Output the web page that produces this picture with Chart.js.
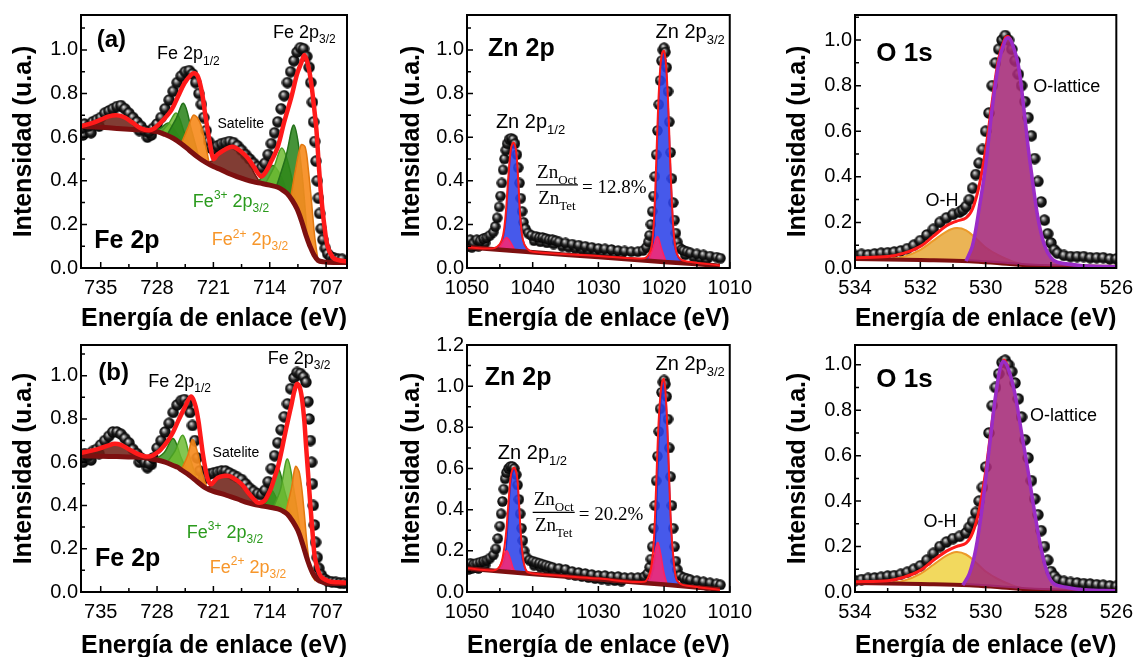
<!DOCTYPE html>
<html>
<head>
<meta charset="utf-8">
<script src="https://cdn.jsdelivr.net/npm/chart.js"></script>
<style>
  html, body { margin: 0; padding: 0; background: #fff; }
  #wrap { position: relative; width: 1141px; height: 657px; overflow: hidden; }
  #wrap canvas { position: absolute; }
</style>
</head>
<body>
<div id="wrap">
  <canvas id="feA" width="380" height="330" style="left:0;top:0"></canvas>
  <canvas id="znA" width="380" height="330" style="left:380px;top:0"></canvas>
  <canvas id="oA" width="381" height="330" style="left:760px;top:0"></canvas>
  <canvas id="feB" width="380" height="327" style="left:0;top:330px"></canvas>
  <canvas id="znB" width="380" height="327" style="left:380px;top:330px"></canvas>
  <canvas id="oB" width="381" height="327" style="left:760px;top:330px"></canvas>
</div>
<script>
// ---- axes ----
const feTicksX = [735, 728, 721, 714, 707];
const feMinorX = [731.5, 724.5, 717.5, 710.5];
const znTicksX = [1050, 1040, 1030, 1020, 1010];
const znMinorX = [1045, 1035, 1025, 1015];
const oTicksX = [534, 532, 530, 528, 526];
const oMinorX = [533, 531, 529, 527];
const yTicks10 = [0, 0.2, 0.4, 0.6, 0.8, 1.0];
const yMinor10 = [0.1, 0.3, 0.5, 0.7, 0.9, 1.1];
const yTicks12 = [0, 0.2, 0.4, 0.6, 0.8, 1.0, 1.2];

// ---- Fe 2p (a) ----
const feA_data = [[737.4,0.64],[737.0,0.66],[736.5,0.65],[736.0,0.67],[735.5,0.68],[735.0,0.69],[734.5,0.71],[734.0,0.72],[733.5,0.73],[733.0,0.74],[732.5,0.745],[732.0,0.73],[731.5,0.71],[731.0,0.69],[730.5,0.67],[730.0,0.65],[729.5,0.63],[729.0,0.625],[728.5,0.64],[728.0,0.66],[727.5,0.69],[727.0,0.73],[726.5,0.77],[726.0,0.81],[725.5,0.85],[725.0,0.88],[724.5,0.90],[724.0,0.905],[723.6,0.89],[723.2,0.85],[722.8,0.80],[722.5,0.75],[722.2,0.69],[721.9,0.63],[721.6,0.58],[721.3,0.55],[721.0,0.545],[720.5,0.56],[720.0,0.57],[719.5,0.575],[719.0,0.58],[718.5,0.575],[718.0,0.56],[717.5,0.54],[717.0,0.52],[716.5,0.50],[716.0,0.48],[715.5,0.465],[715.0,0.46],[714.6,0.48],[714.2,0.52],[713.8,0.57],[713.4,0.62],[713.0,0.67],[712.6,0.73],[712.2,0.79],[711.8,0.85],[711.4,0.90],[711.0,0.95],[710.6,0.99],[710.2,1.01],[709.8,1.005],[709.4,0.97],[709.1,0.92],[708.9,0.85],[708.7,0.76],[708.55,0.67],[708.4,0.58],[708.25,0.49],[708.1,0.40],[707.95,0.32],[707.8,0.25],[707.6,0.18],[707.4,0.13],[707.1,0.09],[706.8,0.065],[706.4,0.05],[706.0,0.045],[705.5,0.04],[705.0,0.04]];
const feA_spread = [[737.2,0.61],[736.2,0.62],[735.2,0.65],[730.2,0.63],[729.2,0.60],[728.7,0.61]];
const feA_bg = [[737.45,0.65],[735,0.645],[733,0.64],[731,0.635],[729,0.63],[728,0.625],[727,0.612],[726,0.595],[725,0.57],[724,0.54],[723,0.51],[722,0.485],[721,0.465],[720,0.45],[719,0.432],[718,0.418],[717,0.405],[716,0.395],[715,0.388],[714,0.38],[713,0.37],[712.3,0.355],[711.8,0.34],[711.2,0.31],[710.6,0.27],[710.0,0.21],[709.5,0.15],[709.0,0.10],[708.5,0.06],[708.0,0.035],[707.3,0.028],[706,0.025],[704.4,0.025]];
const feA_sat1 = [[737.45,0.65],[736.5,0.66],[735.5,0.675],[734.5,0.69],[733.5,0.70],[732.6,0.70],[731.7,0.685],[730.8,0.665],[729.9,0.645],[729,0.63]];
const feA_sat2 = [[722.0,0.485],[721.2,0.49],[720.5,0.515],[719.5,0.545],[718.6,0.555],[717.7,0.54],[716.8,0.50],[716.0,0.44],[715.2,0.39]];
const feA_g1 = [[728.6,0.628],[727.6,0.64],[726.6,0.665],[725.6,0.62],[724.6,0.56]];
const feA_g2 = [[727.6,0.618],[726.6,0.66],[725.6,0.71],[724.6,0.62],[723.6,0.53]];
const feA_g3 = [[726.8,0.607],[725.7,0.68],[724.7,0.755],[723.7,0.63],[722.8,0.505]];
const feA_o1 = [[725.0,0.57],[724.2,0.64],[723.5,0.70],[723.0,0.69],[722.5,0.65],[722.0,0.57],[721.5,0.475]];
const feA_g4 = [[715.6,0.392],[714.6,0.43],[713.6,0.47],[712.6,0.42],[711.8,0.34]];
const feA_g5 = [[714.6,0.383],[713.5,0.46],[712.5,0.55],[711.5,0.45],[710.6,0.27]];
const feA_g6 = [[713.2,0.37],[712.0,0.51],[711.0,0.655],[710.1,0.47],[709.3,0.13]];
const feA_o2 = [[711.4,0.32],[710.8,0.45],[710.1,0.565],[709.6,0.555],[709.2,0.45],[708.8,0.30],[708.4,0.14],[708.0,0.035]];
const feA_fit = [[737.45,0.65],[736,0.665],[735,0.68],[734,0.695],[733,0.70],[732,0.69],[731,0.665],[730,0.64],[729,0.632],[728.3,0.641],[727.2,0.68],[726.2,0.725],[725.4,0.786],[724.6,0.847],[723.8,0.885],[723.35,0.893],[722.9,0.875],[722.4,0.80],[722.0,0.70],[721.5,0.587],[721.0,0.50],[720.5,0.52],[719.5,0.545],[718.6,0.556],[717.6,0.535],[716.7,0.503],[715.9,0.46],[715.1,0.42],[714.5,0.44],[713.8,0.49],[713.0,0.556],[712.2,0.67],[711.3,0.786],[710.6,0.89],[710.1,0.939],[709.7,0.977],[709.3,0.94],[708.9,0.862],[708.5,0.74],[708.2,0.633],[707.9,0.47],[707.6,0.327],[707.2,0.19],[706.8,0.098],[706.2,0.05],[705.6,0.037],[704.4,0.03]];

// ---- Fe 2p (b) ----
const feB_data = [[737.4,0.62],[737.0,0.64],[736.5,0.63],[736.0,0.65],[735.5,0.66],[735.0,0.68],[734.5,0.70],[734.0,0.72],[733.5,0.74],[733.0,0.74],[732.5,0.73],[732.0,0.71],[731.5,0.69],[731.0,0.66],[730.5,0.64],[730.0,0.62],[729.5,0.60],[729.0,0.595],[728.5,0.62],[728.0,0.665],[727.5,0.70],[727.0,0.74],[726.5,0.78],[726.0,0.83],[725.5,0.865],[725.0,0.885],[724.6,0.89],[724.2,0.87],[723.9,0.83],[723.6,0.77],[723.3,0.70],[723.0,0.62],[722.7,0.56],[722.3,0.52],[722.0,0.53],[721.5,0.545],[721.0,0.55],[720.5,0.555],[720.0,0.56],[719.5,0.56],[719.0,0.55],[718.5,0.54],[718.0,0.53],[717.5,0.52],[717.0,0.50],[716.5,0.48],[716.0,0.465],[715.5,0.455],[715.0,0.45],[714.6,0.47],[714.2,0.51],[713.8,0.57],[713.4,0.63],[713.0,0.69],[712.6,0.75],[712.2,0.81],[711.8,0.87],[711.4,0.94],[711.0,0.99],[710.6,1.015],[710.2,1.01],[709.8,0.995],[709.5,0.97],[709.25,0.88],[709.1,0.80],[708.95,0.70],[708.8,0.60],[708.7,0.50],[708.6,0.40],[708.45,0.31],[708.3,0.23],[708.1,0.16],[707.9,0.11],[707.6,0.08],[707.2,0.06],[706.8,0.05],[706.3,0.047],[705.8,0.045],[705.3,0.042],[704.8,0.04]];
const feB_spread = [[737.2,0.60],[736.2,0.61],[735.2,0.64],[730.2,0.60],[729.2,0.575],[728.7,0.59]];
const feB_bg = [[737.45,0.63],[735,0.628],[733,0.626],[731,0.624],[729.6,0.621],[728,0.61],[727,0.60],[726,0.585],[725.4,0.576],[725,0.565],[724,0.54],[723,0.51],[722.1,0.484],[721,0.465],[720,0.455],[719.2,0.445],[718,0.43],[717,0.415],[716,0.405],[715.1,0.399],[714,0.392],[713,0.384],[712.4,0.375],[711.8,0.36],[711.2,0.33],[710.5,0.284],[709.9,0.22],[709.3,0.147],[708.7,0.09],[708.0,0.055],[707.3,0.045],[706.8,0.04],[704.4,0.04]];
const feB_sat1 = [[737.45,0.632],[736,0.648],[735,0.662],[734,0.676],[733.3,0.684],[732.5,0.68],[731.5,0.662],[730.5,0.64],[729.6,0.624],[729,0.618]];
const feB_sat2 = [[721.8,0.48],[721.0,0.50],[720.3,0.525],[719.6,0.537],[718.9,0.534],[718.0,0.51],[717.2,0.475],[716.4,0.435],[715.6,0.405]];
const feB_g1 = [[728.2,0.613],[727.1,0.645],[726.0,0.71],[725.0,0.62],[724.1,0.545]];
const feB_g2 = [[726.8,0.597],[725.8,0.65],[724.8,0.725],[723.9,0.62],[723.0,0.51]];
const feB_o1 = [[725.0,0.565],[724.2,0.63],[723.6,0.705],[723.0,0.65],[722.4,0.55],[721.8,0.48]];
const feB_g3 = [[715.6,0.403],[714.6,0.425],[713.8,0.47],[713.0,0.42],[712.2,0.37]];
const feB_g4 = [[714.8,0.394],[713.9,0.46],[713.0,0.575],[712.1,0.46],[711.2,0.34]];
const feB_g5 = [[713.6,0.387],[712.7,0.47],[711.8,0.615],[710.9,0.45],[710.0,0.23]];
const feB_o2 = [[712.0,0.37],[711.3,0.48],[710.8,0.58],[710.3,0.55],[709.8,0.40],[709.3,0.20],[708.8,0.08],[708.3,0.05]];
const feB_fit = [[737.45,0.644],[736,0.655],[735,0.665],[734,0.678],[733.3,0.685],[732.5,0.68],[731.5,0.66],[730.5,0.64],[729.6,0.628],[728.8,0.628],[728.3,0.636],[727.5,0.66],[726.7,0.697],[726.0,0.74],[725.4,0.789],[724.6,0.85],[723.8,0.904],[723.3,0.87],[722.9,0.80],[722.6,0.72],[722.3,0.636],[722.0,0.57],[721.7,0.522],[721.3,0.498],[720.5,0.528],[719.6,0.537],[718.9,0.535],[718.0,0.514],[717.3,0.49],[716.7,0.46],[716.0,0.43],[715.5,0.414],[714.7,0.42],[714.2,0.45],[713.8,0.483],[713.4,0.53],[713.0,0.575],[712.6,0.64],[712.2,0.713],[711.7,0.80],[711.3,0.866],[710.9,0.935],[710.6,0.962],[710.3,0.95],[710.0,0.896],[709.7,0.79],[709.5,0.682],[709.2,0.53],[708.9,0.376],[708.65,0.26],[708.4,0.162],[708.0,0.10],[707.6,0.07],[707.0,0.055],[706.4,0.047],[705.5,0.045],[704.4,0.043]];

// ---- Zn 2p (a) ----
const znA_data = [[1050,0.12],[1049.5,0.13],[1049,0.115],[1048.5,0.13],[1048,0.125],[1047.5,0.135],[1047,0.14],[1046.5,0.15],[1046,0.165],[1045.7,0.19],[1045.4,0.23],[1045.1,0.28],[1044.9,0.33],[1044.7,0.39],[1044.5,0.45],[1044.3,0.50],[1044.1,0.54],[1043.9,0.57],[1043.6,0.59],[1043.3,0.595],[1043.0,0.59],[1042.7,0.57],[1042.4,0.52],[1042.2,0.46],[1042.0,0.39],[1041.8,0.32],[1041.6,0.26],[1041.4,0.21],[1041.1,0.18],[1040.7,0.16],[1040.2,0.15],[1039.5,0.145],[1039,0.14],[1038.5,0.14],[1038,0.135],[1037.5,0.13],[1037,0.13],[1036.5,0.125],[1036,0.12],[1035,0.115],[1034,0.11],[1033,0.105],[1032,0.10],[1031,0.095],[1030,0.09],[1029,0.088],[1028,0.085],[1027,0.08],[1026,0.078],[1025,0.075],[1024,0.075],[1023.2,0.08],[1022.7,0.095],[1022.4,0.12],[1022.2,0.15],[1022.0,0.20],[1021.8,0.26],[1021.6,0.33],[1021.4,0.42],[1021.2,0.52],[1021.0,0.63],[1020.8,0.75],[1020.6,0.86],[1020.4,0.95],[1020.2,1.0],[1020.0,1.01],[1019.8,0.99],[1019.6,0.92],[1019.4,0.81],[1019.2,0.67],[1019.0,0.53],[1018.8,0.41],[1018.6,0.30],[1018.4,0.22],[1018.2,0.16],[1018.0,0.12],[1017.7,0.095],[1017.3,0.085],[1017,0.08],[1016.5,0.075],[1016,0.07],[1015,0.065],[1014,0.06],[1013,0.055],[1012,0.05],[1011.4,0.045]];
const znA_spread = [[1049.75,0.10],[1049.25,0.095],[1048.75,0.105],[1048.25,0.10],[1047.75,0.11],[1047.25,0.115],[1039.8,0.125],[1038.8,0.12],[1037.8,0.115],[1036.8,0.11],[1035.5,0.10],[1034.5,0.095],[1033.5,0.09],[1032.5,0.085],[1031.5,0.08],[1030.5,0.075],[1029.5,0.072],[1028.5,0.068],[1027.5,0.065],[1026.5,0.062],[1016.8,0.06],[1015.5,0.05],[1014.5,0.045],[1013.5,0.04]];
const znA_bg = [[1050,0.095],[1040,0.072],[1030,0.05],[1020,0.028],[1011.5,0.01]];
const znA_blue1 = [[1045.5,0.085],[1044.6,0.13],[1044.1,0.22],[1043.7,0.40],[1043.3,0.54],[1042.9,0.57],[1042.5,0.53],[1042.2,0.40],[1041.9,0.24],[1041.5,0.13],[1040.9,0.09],[1040.0,0.072]];
const znA_pink1 = [[1045.3,0.084],[1044.6,0.115],[1044.0,0.14],[1043.4,0.12],[1042.7,0.079]];
const znA_blue2 = [[1023.5,0.036],[1022.2,0.055],[1021.8,0.09],[1021.5,0.18],[1021.2,0.40],[1020.9,0.68],[1020.6,0.89],[1020.3,0.98],[1020.0,0.99],[1019.7,0.93],[1019.4,0.77],[1019.1,0.52],[1018.8,0.30],[1018.5,0.15],[1018.1,0.07],[1017.5,0.035],[1016.5,0.02]];
const znA_pink2 = [[1022.4,0.034],[1021.7,0.09],[1021.0,0.144],[1020.4,0.09],[1019.7,0.028]];
const znA_fit = [[1050,0.095],[1046,0.09],[1045,0.11],[1044.5,0.15],[1044.1,0.25],[1043.7,0.42],[1043.3,0.55],[1042.9,0.575],[1042.5,0.53],[1042.2,0.40],[1041.9,0.24],[1041.5,0.13],[1040.9,0.09],[1040,0.075],[1030,0.055],[1023,0.045],[1022.2,0.07],[1021.8,0.12],[1021.5,0.24],[1021.2,0.48],[1020.9,0.74],[1020.6,0.91],[1020.3,0.985],[1020.0,0.995],[1019.7,0.93],[1019.4,0.77],[1019.1,0.52],[1018.8,0.30],[1018.5,0.15],[1018.1,0.07],[1017.5,0.04],[1016.5,0.03],[1011.5,0.012]];

// ---- Zn 2p (b) ----
const znB_data = [[1050,0.13],[1049.5,0.14],[1049,0.135],[1048.5,0.14],[1048,0.145],[1047.5,0.15],[1047,0.155],[1046.5,0.165],[1046,0.18],[1045.6,0.21],[1045.3,0.26],[1045,0.32],[1044.8,0.38],[1044.6,0.44],[1044.4,0.50],[1044.2,0.55],[1044,0.58],[1043.7,0.60],[1043.4,0.61],[1043.1,0.61],[1042.8,0.60],[1042.5,0.57],[1042.3,0.52],[1042.1,0.45],[1041.9,0.38],[1041.7,0.31],[1041.5,0.25],[1041.3,0.20],[1041.0,0.17],[1040.5,0.155],[1040,0.15],[1039.5,0.145],[1039,0.14],[1038.5,0.135],[1038,0.13],[1037.5,0.125],[1037,0.12],[1036,0.115],[1035,0.11],[1034,0.10],[1033,0.095],[1032,0.09],[1031,0.085],[1030,0.08],[1029,0.08],[1028,0.075],[1027,0.075],[1026,0.07],[1025,0.07],[1024,0.07],[1023,0.075],[1022.5,0.09],[1022.2,0.12],[1022,0.16],[1021.8,0.22],[1021.6,0.31],[1021.4,0.42],[1021.2,0.54],[1021.0,0.66],[1020.8,0.78],[1020.6,0.89],[1020.4,0.97],[1020.2,1.02],[1020.0,1.03],[1019.8,1.01],[1019.6,0.95],[1019.4,0.84],[1019.2,0.70],[1019.0,0.56],[1018.8,0.42],[1018.6,0.31],[1018.4,0.22],[1018.2,0.15],[1018.0,0.11],[1017.6,0.08],[1017,0.07],[1016.5,0.065],[1016,0.06],[1015,0.055],[1014,0.05],[1013,0.045],[1012,0.04],[1011.4,0.035]];
const znB_spread = [[1049.75,0.11],[1049.25,0.115],[1048.75,0.12],[1048.25,0.115],[1047.75,0.125],[1047.25,0.13],[1039.8,0.13],[1038.8,0.12],[1037.8,0.11],[1036.8,0.10],[1035.5,0.095],[1034.5,0.085],[1033.5,0.08],[1032.5,0.075],[1031.5,0.07],[1030.5,0.065],[1029.5,0.062],[1028.5,0.058],[1027.5,0.055],[1026.5,0.053],[1016.8,0.05],[1015.5,0.042],[1014.5,0.036],[1013.5,0.032]];
const znB_bg = [[1050,0.114],[1040,0.088],[1030,0.062],[1020,0.036],[1011.5,0.012]];
const znB_blue1 = [[1045.5,0.102],[1044.6,0.13],[1044.1,0.20],[1043.7,0.38],[1043.3,0.54],[1042.8,0.60],[1042.4,0.56],[1042.1,0.43],[1041.8,0.27],[1041.4,0.14],[1040.9,0.10],[1040.0,0.088]];
const znB_pink1 = [[1045.4,0.10],[1044.7,0.15],[1044.0,0.20],[1043.5,0.17],[1042.9,0.11],[1042.4,0.093]];
const znB_blue2 = [[1023.5,0.044],[1022.2,0.06],[1021.8,0.09],[1021.5,0.16],[1021.2,0.36],[1020.9,0.65],[1020.6,0.88],[1020.3,1.0],[1020.05,1.03],[1019.8,0.98],[1019.5,0.80],[1019.2,0.53],[1018.9,0.30],[1018.5,0.14],[1018.1,0.06],[1017.5,0.035],[1016.5,0.025]];
const znB_pink2 = [[1022.4,0.04],[1021.7,0.14],[1021.0,0.24],[1020.6,0.20],[1020.0,0.09],[1019.5,0.032]];
const znB_fit = [[1050,0.115],[1046,0.105],[1045,0.125],[1044.5,0.18],[1044.1,0.27],[1043.7,0.43],[1043.3,0.57],[1042.85,0.605],[1042.4,0.565],[1042.1,0.44],[1041.8,0.28],[1041.4,0.15],[1040.9,0.10],[1040,0.09],[1030,0.065],[1023,0.05],[1022.2,0.09],[1021.8,0.16],[1021.5,0.28],[1021.2,0.52],[1020.9,0.78],[1020.6,0.94],[1020.3,1.02],[1020.05,1.035],[1019.8,0.98],[1019.5,0.80],[1019.2,0.53],[1018.9,0.30],[1018.5,0.14],[1018.1,0.06],[1017.5,0.04],[1016.5,0.03],[1011.5,0.01]];

// ---- O 1s (a) ----
const oA_data = [[534.0,0.055],[533.8,0.06],[533.6,0.058],[533.4,0.062],[533.2,0.065],[533.0,0.067],[532.8,0.07],[532.6,0.075],[532.4,0.085],[532.2,0.10],[532.0,0.12],[531.8,0.145],[531.6,0.17],[531.4,0.20],[531.2,0.22],[531.0,0.235],[530.8,0.245],[530.7,0.255],[530.6,0.27],[530.5,0.30],[530.4,0.35],[530.3,0.41],[530.2,0.46],[530.1,0.52],[530.0,0.60],[529.9,0.68],[529.8,0.80],[529.7,0.90],[529.6,0.96],[529.5,1.00],[529.4,1.02],[529.3,1.00],[529.2,0.96],[529.1,0.91],[529.0,0.85],[528.9,0.80],[528.8,0.73],[528.7,0.66],[528.6,0.58],[528.5,0.48],[528.4,0.38],[528.3,0.29],[528.2,0.21],[528.1,0.15],[528.0,0.11],[527.9,0.08],[527.8,0.065],[527.6,0.055],[527.4,0.05],[527.2,0.05],[527.0,0.05],[526.8,0.045],[526.6,0.045],[526.4,0.045],[526.2,0.04],[526.0,0.04]];
const oA_bg = [[534,0.04],[532,0.035],[530.5,0.03],[529.5,0.02],[528.5,0.01],[526,0.005]];
const oA_oh = [[533.0,0.038],[532.5,0.05],[532.0,0.08],[531.6,0.12],[531.2,0.16],[530.9,0.175],[530.6,0.165],[530.3,0.13],[530.0,0.09],[529.6,0.055],[529.2,0.03],[528.8,0.013]];
const oA_lat = [[530.6,0.03],[530.4,0.10],[530.2,0.26],[530.0,0.45],[529.8,0.70],[529.6,0.90],[529.4,1.00],[529.3,1.01],[529.2,0.99],[529.0,0.89],[528.8,0.66],[528.7,0.53],[528.6,0.42],[528.4,0.22],[528.2,0.10],[528.0,0.045],[527.8,0.025],[527.0,0.01],[526.0,0.005]];
const oA_fit = [[534,0.045],[533,0.05],[532.5,0.065],[532,0.095],[531.6,0.14],[531.2,0.185],[530.9,0.205],[530.6,0.22],[530.4,0.26],[530.2,0.36],[530.0,0.52],[529.8,0.73],[529.6,0.92],[529.4,1.01],[529.3,1.015],[529.2,0.99]];

// ---- O 1s (b) ----
const oB_data = [[534.0,0.05],[533.8,0.055],[533.6,0.06],[533.4,0.062],[533.2,0.065],[533.0,0.07],[532.8,0.072],[532.6,0.078],[532.4,0.087],[532.2,0.10],[532.0,0.115],[531.8,0.14],[531.6,0.17],[531.4,0.20],[531.2,0.22],[531.0,0.235],[530.8,0.245],[530.6,0.26],[530.5,0.285],[530.4,0.31],[530.3,0.35],[530.2,0.40],[530.1,0.46],[530.0,0.55],[529.9,0.70],[529.8,0.82],[529.7,0.90],[529.6,0.96],[529.5,1.01],[529.4,1.02],[529.3,1.00],[529.2,0.97],[529.1,0.92],[529.0,0.85],[528.9,0.77],[528.8,0.67],[528.7,0.59],[528.6,0.49],[528.5,0.41],[528.4,0.34],[528.3,0.27],[528.2,0.20],[528.1,0.14],[528.0,0.09],[527.9,0.07],[527.8,0.055],[527.6,0.047],[527.4,0.042],[527.2,0.04],[527.0,0.037],[526.8,0.035],[526.6,0.032],[526.4,0.03],[526.2,0.027],[526.0,0.025]];
const oB_bg = [[534,0.04],[532,0.035],[530.5,0.03],[529.5,0.02],[528.5,0.01],[527,0.005],[526,0.005]];
const oB_oh = [[533.0,0.038],[532.5,0.05],[532.0,0.08],[531.6,0.12],[531.2,0.16],[530.9,0.176],[530.6,0.165],[530.3,0.13],[530.0,0.09],[529.6,0.055],[529.2,0.03],[528.8,0.013]];
const oB_lat = [[530.7,0.03],[530.5,0.08],[530.3,0.19],[530.1,0.38],[529.9,0.62],[529.7,0.86],[529.55,0.99],[529.45,1.015],[529.3,0.98],[529.1,0.87],[528.9,0.70],[528.7,0.53],[528.5,0.35],[528.3,0.19],[528.1,0.08],[527.9,0.035],[527.5,0.02],[527,0.01],[526,0.005]];
const oB_fit = [[534,0.045],[533,0.05],[532.5,0.065],[532,0.095],[531.6,0.14],[531.2,0.18],[530.9,0.20],[530.6,0.215],[530.4,0.26],[530.2,0.36],[530.0,0.53],[529.8,0.75],[529.6,0.94],[529.45,1.02],[529.3,0.99]];

// ---- drawing helpers ----
const FONT = "'Liberation Sans', Arial, sans-serif";
const SERIF = "'Liberation Serif', 'DejaVu Serif', serif";
Chart.defaults.font.family = FONT;
Chart.defaults.color = '#000';

function makeBall(d) {
  const c = document.createElement('canvas');
  c.width = c.height = d;
  const g = c.getContext('2d');
  const r = d / 2;
  const grad = g.createRadialGradient(r * 0.75, r * 0.65, 0, r, r, r);
  grad.addColorStop(0, '#f2f2f2');
  grad.addColorStop(0.22, '#9a9a9a');
  grad.addColorStop(0.55, '#202020');
  grad.addColorStop(1, '#000');
  g.fillStyle = grad;
  g.beginPath();
  g.arc(r, r, r - 0.3, 0, Math.PI * 2);
  g.fill();
  return c;
}
const ballBig = makeBall(12);
const ballSmall = makeBall(11);

const xy = arr => arr.map(p => ({x: p[0], y: p[1]}));

function dots(arr, img, order) {
  return {data: xy(arr), showLine: false, pointStyle: img, pointRadius: 6, order: order || 30};
}
function curve(arr, color, width, order, fill, fillColor) {
  return {
    data: xy(arr), showLine: true, pointRadius: 0, borderColor: color, borderWidth: width,
    order: order, tension: 0.35, fill: fill === undefined ? false : fill,
    backgroundColor: fillColor || 'transparent'
  };
}

function measureParts(ctx, parts, size, weight, fam) {
  let w = 0;
  parts.forEach(([t, k]) => {
    ctx.font = `${weight} ${k ? Math.round(size * 0.66) : size}px ${fam}`;
    w += ctx.measureText(t).width;
  });
  return w;
}
function drawParts(ctx, x, y, parts, size, weight, color, fam) {
  ctx.fillStyle = color;
  ctx.textAlign = 'left';
  ctx.textBaseline = 'alphabetic';
  let cx = x;
  parts.forEach(([t, k]) => {
    ctx.font = `${weight} ${k ? Math.round(size * 0.66) : size}px ${fam}`;
    const dy = k === 'sub' ? size * 0.3 : (k === 'sup' ? -size * 0.42 : 0);
    ctx.fillText(t, cx, y + dy);
    cx += ctx.measureText(t).width;
  });
}

function overlay(o) {
  return {
    id: 'overlay',
    afterDraw(chart) {
      const {ctx, chartArea: a, scales: {x, y}} = chart;
      ctx.save();
      ctx.strokeStyle = '#000';
      ctx.lineWidth = 1.5;
      ctx.beginPath();
      o.xTicks.concat(o.xMinor).forEach((v, i) => {
        const p = x.getPixelForValue(v);
        const len = i < o.xTicks.length ? 6 : 4;
        ctx.moveTo(p, a.bottom); ctx.lineTo(p, a.bottom - len);
      });
      o.yTicks.concat(o.yMinor).forEach((v, i) => {
        const p = y.getPixelForValue(v);
        if (p < a.top) return;
        const len = i < o.yTicks.length ? 6 : 4;
        ctx.moveTo(a.left, p); ctx.lineTo(a.left + len, p);
      });
      ctx.stroke();
      ctx.lineWidth = 2;
      ctx.strokeRect(a.left, a.top, a.right - a.left, a.bottom - a.top);

      o.notes.forEach(n => {
        const px = x.getPixelForValue(n.x), py = y.getPixelForValue(n.y);
        if (n.frac) {
          const w = 42;
          ctx.lineWidth = 1.2;
          ctx.beginPath(); ctx.moveTo(px, py); ctx.lineTo(px + w, py); ctx.stroke();
          const num = [['Zn', ''], ['Oct', 'sub']], den = [['Zn', ''], ['Tet', 'sub']];
          const wn = measureParts(ctx, num, 19, 'normal', SERIF);
          const wd = measureParts(ctx, den, 19, 'normal', SERIF);
          drawParts(ctx, px + (w - wn) / 2, py - 7, num, 19, 'normal', '#000', SERIF);
          drawParts(ctx, px + (w - wd) / 2, py + 19, den, 19, 'normal', '#000', SERIF);
          drawParts(ctx, px + w + 4, py + 8, [[n.frac, '']], 19, 'normal', '#000', SERIF);
        } else {
          drawParts(ctx, px, py, n.parts, n.size || 18, n.weight || 'normal', n.color || '#000', FONT);
        }
      });
      ctx.restore();
    }
  };
}

function panel(id, c) {
  new Chart(document.getElementById(id), {
    type: 'scatter',
    data: {datasets: c.datasets},
    options: {
      responsive: false, animation: false, devicePixelRatio: 1,
      layout: {autoPadding: false, padding: {left: 0, top: c.top, right: c.right, bottom: 0}},
      plugins: {legend: {display: false}, tooltip: {enabled: false}},
      scales: {
        x: {
          type: 'linear', reverse: true, min: c.xMin, max: c.xMax,
          afterBuildTicks: s => { s.ticks = c.xTicks.map(v => ({value: v})); },
          afterFit: s => { s.height = c.xH; },
          grid: {display: false, drawTicks: false}, border: {display: false},
          ticks: {color: '#000', font: {size: 20}, padding: 8, maxRotation: 0, autoSkip: false, callback: v => String(v)},
          title: {display: true, text: 'Energía de enlace (eV)', color: '#000', font: {size: 25, weight: 'bold', lineHeight: 0.85}, padding: 0}
        },
        y: {
          type: 'linear', min: 0, max: c.yMax,
          afterBuildTicks: s => { s.ticks = c.yTicks.map(v => ({value: v})); },
          afterFit: s => { s.width = c.yW; },
          grid: {display: false, drawTicks: false}, border: {display: false},
          ticks: {color: '#000', font: {size: 20}, padding: 3, autoSkip: false, callback: v => v.toFixed(1)},
          title: {display: true, text: 'Intensidad (u.a.)', color: '#000', font: {size: 25, weight: 'bold', lineHeight: 0.85}, padding: {top: c.yTitlePad, bottom: 0}}
        }
      }
    },
    plugins: [overlay({xTicks: c.xTicks, xMinor: c.xMinor, yTicks: c.yTicks, yMinor: c.yMinor, notes: c.notes})]
  });
}

// colours
const RED = '#ff1a1a', BG = '#7d1010';
const SAT = 'rgba(112,34,24,0.88)';
const GREEN1 = 'rgba(58,150,30,0.85)', GREEN2 = 'rgba(110,188,50,0.85)', GREEN3 = 'rgba(38,128,22,0.85)';
const ORANGE = 'rgba(246,140,32,0.92)';
const BLUE = 'rgba(44,66,232,0.88)', PINK = 'rgba(255,40,110,0.85)';
const PURPLE = 'rgba(165,42,120,0.88)', OH_A = 'rgba(232,170,62,0.88)', OH_B = 'rgba(240,212,72,0.88)';
const GTXT = '#2a9a1c', OTXT = '#f7962a';

// dataset index 1 is always the background line the components fill to
function feSets(d) {
  return [
    dots(d.data, ballBig),
    curve(d.bg, BG, 5, 3),
    dots(d.spread, ballBig, 31),
    curve(d.sat1, '#6e1a12', 1.5, 12, 1, SAT),
    curve(d.sat2, '#6e1a12', 1.5, 12, 1, SAT)
  ].concat(d.greens.map((g, i) => curve(g, ['#2b7a16', '#4a9e24', '#23701a'][i % 3], 1.5, 11 - i * 0.1, 1, [GREEN1, GREEN2, GREEN3][i % 3])))
   .concat(d.oranges.map(g => curve(g, '#e27810', 1.5, 10, 1, ORANGE)))
   .concat([curve(d.fit, RED, 4.5, 2)]);
}
function feNotes(n) {
  return [
    {x: n.tag[0], y: n.tag[1], parts: [[n.tagText, '']], size: 24, weight: 'bold'},
    {x: n.p12[0], y: n.p12[1], parts: [['Fe 2p', ''], ['1/2', 'sub']], size: 18},
    {x: n.p32[0], y: n.p32[1], parts: [['Fe 2p', ''], ['3/2', 'sub']], size: 18},
    {x: n.sat[0], y: n.sat[1], parts: [['Satelite', '']], size: 14},
    {x: n.fe3[0], y: n.fe3[1], parts: [['Fe', ''], ['3+', 'sup'], [' 2p', ''], ['3/2', 'sub']], size: 18, color: GTXT},
    {x: n.fe2[0], y: n.fe2[1], parts: [['Fe', ''], ['2+', 'sup'], [' 2p', ''], ['3/2', 'sub']], size: 18, color: OTXT},
    {x: n.name[0], y: n.name[1], parts: [['Fe 2p', '']], size: 25, weight: 'bold'}
  ];
}
function znSets(d) {
  return [
    dots(d.data, ballSmall),
    curve(d.bg, BG, 4.5, 3),
    dots(d.spread, ballSmall, 31),
    curve(d.blue1, '#1f2fc8', 1.5, 12, 1, BLUE),
    curve(d.blue2, '#1f2fc8', 1.5, 12, 1, BLUE),
    curve(d.pink1, '#ff2060', 1.5, 11, 1, PINK),
    curve(d.pink2, '#ff2060', 1.5, 11, 1, PINK),
    curve(d.fit, RED, 2, 2)
  ];
}
function znNotes(n) {
  return [
    {x: n.name[0], y: n.name[1], parts: [['Zn 2p', '']], size: 25, weight: 'bold'},
    {x: n.p32[0], y: n.p32[1], parts: [['Zn 2p', ''], ['3/2', 'sub']], size: 20},
    {x: n.p12[0], y: n.p12[1], parts: [['Zn 2p', ''], ['1/2', 'sub']], size: 20},
    {x: n.frac[0], y: n.frac[1], frac: n.fracText}
  ];
}
function oSets(d, ohColor) {
  return [
    dots(d.data, ballBig),
    curve(d.bg, BG, 4, 3),
    curve(d.oh, '#ec9a2a', 2, 12, 1, ohColor),
    curve(d.fit, RED, 3, 2),
    curve(d.lat, '#9a2cc6', 3.5, 1, 1, PURPLE)
  ];
}
function oNotes(n) {
  return [
    {x: n.name[0], y: n.name[1], parts: [['O 1s', '']], size: 26, weight: 'bold'},
    {x: n.lat[0], y: n.lat[1], parts: [['O-lattice', '']], size: 18},
    {x: n.oh[0], y: n.oh[1], parts: [['O-H', '']], size: 18}
  ];
}

const feAxis = {xMin: 704.4, xMax: 737.45, xTicks: feTicksX, xMinor: feMinorX, yTicks: yTicks10, yMinor: yMinor10, yW: 81, right: 33, yTitlePad: 13.5};
const znAxis = {xMin: 1010, xMax: 1050, xTicks: znTicksX, xMinor: znMinorX, yW: 87, right: 27, yTitlePad: 21.5};
const oAxis = {xMin: 526, xMax: 534, xTicks: oTicksX, xMinor: oMinorX, yTicks: yTicks10, yMinor: yMinor10, yW: 95, right: 20, yTitlePad: 27.5};
const row1 = {top: 15, xH: 62};
const row2 = {top: 13, xH: 65};

panel('feA', Object.assign({}, feAxis, row1, {
  yMax: 1.16,
  datasets: feSets({data: feA_data, spread: feA_spread, bg: feA_bg, sat1: feA_sat1, sat2: feA_sat2, greens: [feA_g1, feA_g2, feA_g3, feA_g4, feA_g5, feA_g6], oranges: [feA_o1, feA_o2], fit: feA_fit}),
  notes: feNotes({tag: [735.5, 1.014], tagText: '(a)', p12: [728.0, 0.957], p32: [713.6, 1.056], sat: [720.5, 0.642], fe3: [723.55, 0.281], fe2: [721.2, 0.105], name: [735.8, 0.092]})
}));
panel('feB', Object.assign({}, feAxis, row2, {
  yMax: 1.142,
  datasets: feSets({data: feB_data, spread: feB_spread, bg: feB_bg, sat1: feB_sat1, sat2: feB_sat2, greens: [feB_g1, feB_g2, feB_g3, feB_g4, feB_g5], oranges: [feB_o1, feB_o2], fit: feB_fit}),
  notes: feNotes({tag: [735.3, 0.98], tagText: '(b)', p12: [729.1, 0.95], p32: [714.25, 1.056], sat: [721.1, 0.624], fe3: [724.3, 0.251], fe2: [721.45, 0.089], name: [735.7, 0.12]})
}));
panel('znA', Object.assign({}, znAxis, row1, {
  yMax: 1.16, yTicks: yTicks10, yMinor: yMinor10,
  datasets: znSets({data: znA_data, spread: znA_spread, bg: znA_bg, blue1: znA_blue1, blue2: znA_blue2, pink1: znA_pink1, pink2: znA_pink2, fit: znA_fit}),
  notes: znNotes({name: [1046.8, 0.972], p32: [1021.3, 1.054], p12: [1045.6, 0.644], frac: [1039.5, 0.381], fracText: '= 12.8%'})
}));
panel('znB', Object.assign({}, znAxis, row2, {
  yMax: 1.2, yTicks: yTicks12, yMinor: yMinor10,
  datasets: znSets({data: znB_data, spread: znB_spread, bg: znB_bg, blue1: znB_blue1, blue2: znB_blue2, pink1: znB_pink1, pink2: znB_pink2, fit: znB_fit}),
  notes: znNotes({name: [1047.3, 1.006], p32: [1021.3, 1.078], p12: [1045.3, 0.644], frac: [1040.0, 0.387], fracText: '= 20.2%'})
}));
panel('oA', Object.assign({}, oAxis, row1, {
  yMax: 1.11,
  datasets: oSets({data: oA_data, bg: oA_bg, oh: oA_oh, lat: oA_lat, fit: oA_fit}, OH_A),
  notes: oNotes({name: [533.35, 0.908], lat: [528.54, 0.773], oh: [531.84, 0.272]})
}));
panel('oB', Object.assign({}, oAxis, row2, {
  yMax: 1.087,
  datasets: oSets({data: oB_data, bg: oB_bg, oh: oB_oh, lat: oB_lat, fit: oB_fit}, OH_B),
  notes: oNotes({name: [533.35, 0.90], lat: [528.64, 0.751], oh: [531.9, 0.288]})
}));
</script>
</body>
</html>
